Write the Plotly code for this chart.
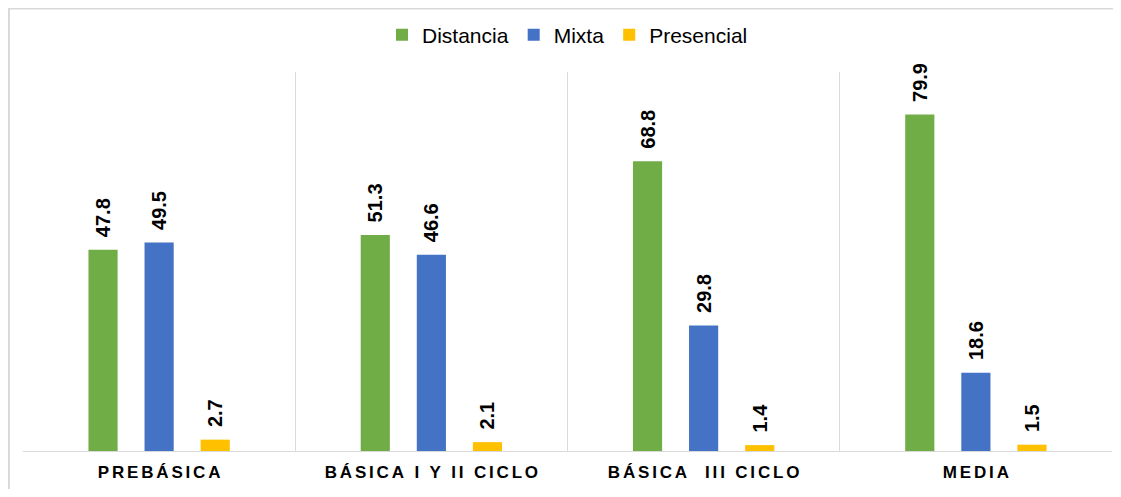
import plotly.graph_objects as go

categories = ["PREBÁSICA", "BÁSICA I Y II CICLO", "BÁSICA  III CICLO", "MEDIA"]
distancia = [47.8, 51.3, 68.8, 79.9]
mixta = [49.5, 46.6, 29.8, 18.6]
presencial = [2.7, 2.1, 1.4, 1.5]

series = [
    ("Distancia", distancia, "#70AD47"),
    ("Mixta", mixta, "#4472C4"),
    ("Presencial", presencial, "#FFC000"),
]

GAP = "\u2006"
LEAD = "\u00a0\u2009"


def spaced(s):
    return GAP.join(list(s))


fig = go.Figure()
for name, vals, color in series:
    fig.add_trace(go.Bar(
        name=name,
        x=categories,
        y=vals,
        marker=dict(color=color, line=dict(width=0)),
        text=[f"{LEAD}{v:.1f}" for v in vals],
        textposition="outside",
        textangle=-90,
        constraintext="none",
        cliponaxis=False,
        textfont=dict(family="Liberation Sans, Arial, sans-serif", size=20, color="#000000", weight="bold"),
    ))

fig.update_layout(
    width=1105,
    height=481,
    barmode="group",
    bargap=0.382,
    bargroupgap=0.48,
    plot_bgcolor="white",
    paper_bgcolor="white",
    margin=dict(l=15, r=1, t=64, b=38),
    font=dict(family="Liberation Sans, Arial, sans-serif", color="#000000"),
    legend=dict(
        orientation="h",
        x=0.5, xanchor="center",
        y=1.0976, yanchor="middle",
        font=dict(size=21, color="#000000"),
        itemwidth=30,
    ),
    xaxis=dict(
        tickmode="array",
        tickvals=categories,
        ticktext=[spaced(c) for c in categories],
        tickfont=dict(size=17, color="#000000", weight="bold"),
        tickson="boundaries",
        showgrid=True,
        gridcolor="#d9d9d9",
        gridwidth=1,
        showline=True,
        linecolor="#d9d9d9",
        linewidth=1,
        ticks="",
        ticklabelstandoff=6,
        range=[-0.5, 3.5],
    ),
    yaxis=dict(
        range=[0, 90],
        showgrid=False,
        showticklabels=False,
        zeroline=False,
        showline=False,
        ticks="",
    ),
    shapes=[
        dict(type="line", xref="paper", yref="paper",
             x0=-0.0138, x1=1.1, y0=1.1675, y1=1.1675,
             line=dict(color="#d9d9d9", width=2), layer="below"),
        dict(type="line", xref="paper", yref="paper",
             x0=-0.0129, x1=-0.0129, y0=-0.2, y1=1.1675,
             line=dict(color="#d9d9d9", width=2), layer="below"),
    ],
)

fig.write_html("out.html")
